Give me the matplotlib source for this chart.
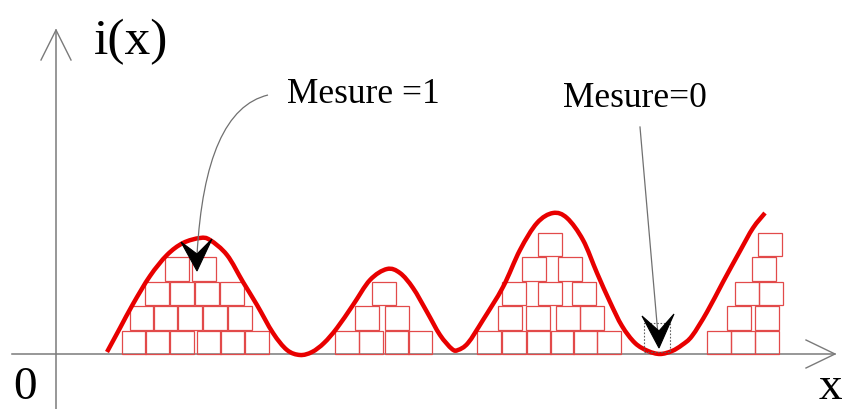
import matplotlib
matplotlib.use("Agg")
import matplotlib.pyplot as plt
from matplotlib.patches import Rectangle, Polygon, PathPatch
from matplotlib.path import Path

# ---- data (x in px, height above the x-axis) ----
curve_x = [107, 120, 133, 150, 167, 183, 200, 210, 227, 243, 257, 273, 287, 300,
           312, 324, 337, 353, 370, 387, 400, 413, 427, 440, 452, 458, 468,
           483, 503, 520, 537, 553, 567, 583, 597, 610, 622, 635, 648, 660, 672,
           682, 692, 707, 723, 740, 753, 765]
curve_h = [2, 26, 50, 78, 99, 111, 116, 114, 99, 72, 49, 21, 4, -1,
           2, 11, 26, 49, 74, 85, 81, 66, 42, 19, 5, 4, 11,
           34, 67, 104, 131, 141, 136, 114, 81, 52, 28, 11, 3, 0, 3,
           9, 18, 42, 72, 103, 126, 141]

# squares: left x per row (row 0 sits on the axis)
square_rows = {
    0: [122, 145, 170, 197, 220, 245, 335, 359, 385, 408, 477, 502, 527, 550, 573, 597, 707, 731, 755],
    1: [130, 153, 178, 203, 228, 355, 385, 498, 526, 556, 580, 727, 755],
    2: [145, 170, 195, 220, 372, 502, 538, 572, 735, 759],
    3: [165, 192, 522, 558, 752],
    4: [538, 758],
}

W, H = 847, 409
base = 354  # pixel row of x-axis

fig = plt.figure(figsize=(W / 100, H / 100), dpi=100)
ax = fig.add_axes([0, 0, 1, 1])
ax.set_xlim(0, W)
ax.set_ylim(base - H, base)
ax.axis("off")

def hy(ypix):
    return base - ypix

axis_col = "#7a7a7a"
# x axis with open arrow
ax.plot([12, 835], [0, 0], color=axis_col, lw=1.1, zorder=2)
ax.plot([806, 835, 806], [14, 0, -14], color=axis_col, lw=1.0, zorder=2)
# y axis with open arrow
ax.plot([56, 56], [hy(409), hy(30)], color=axis_col, lw=1.1, zorder=2)
ax.plot([41, 56, 71], [hy(60), hy(30), hy(60)], color=axis_col, lw=1.0, zorder=2)

# squares
sq = 23.5
row_h = 24.5
for row, xs in square_rows.items():
    for x0 in xs:
        ax.add_patch(Rectangle((x0, row * row_h), sq, sq, fill=False,
                               edgecolor="#e24a4a", lw=0.9, zorder=3))

# red curve: smooth path through the read points (Catmull-Rom drawn as Bezier)
pts = list(zip(curve_x, curve_h))
verts = [pts[0]]
codes = [Path.MOVETO]
n = len(pts)
for i in range(n - 1):
    p0 = pts[i - 1] if i > 0 else pts[i]
    p1 = pts[i]
    p2 = pts[i + 1]
    p3 = pts[i + 2] if i + 2 < n else pts[i + 1]
    c1 = (p1[0] + (p2[0] - p0[0]) / 6, p1[1] + (p2[1] - p0[1]) / 6)
    c2 = (p2[0] - (p3[0] - p1[0]) / 6, p2[1] - (p3[1] - p1[1]) / 6)
    verts += [c1, c2, p2]
    codes += [Path.CURVE4] * 3
ax.add_patch(PathPatch(Path(verts, codes), fill=False, edgecolor="#e80000",
                       lw=3.2, capstyle="butt", joinstyle="round", zorder=4))

serif = "Liberation Serif"
ax.text(94, hy(54), "i(x)", fontsize=37, family=serif, ha="left", va="baseline")
ax.text(13, hy(399), "0", fontsize=34, family=serif, ha="left", va="baseline")
ax.text(819, hy(399), "x", fontsize=34, family=serif, ha="left", va="baseline")
ax.text(287, hy(103), "Mesure =1", fontsize=25.5, family=serif, ha="left", va="baseline")
ax.text(563, hy(107), "Mesure=0", fontsize=25.5, family=serif, ha="left", va="baseline")

# annotation 1: curved leader + black arrowhead
p = Path([(268, hy(95)), (205, hy(110)), (197, hy(255))],
         [Path.MOVETO, Path.CURVE3, Path.CURVE3])
ax.add_patch(PathPatch(p, fill=False, edgecolor="#707070", lw=0.9, zorder=5))
ax.add_patch(Polygon([(197, hy(271)), (181, hy(242)), (197, hy(254)), (212, hy(239))],
                     closed=True, facecolor="black", edgecolor="black", lw=0.8, zorder=6))

# annotation 2: straight leader + arrowhead + dotted box
ax.plot([640, 658], [hy(127), hy(335)], color="#707070", lw=0.9, zorder=5)
ax.add_patch(Rectangle((644, hy(352)), 26, 29, fill=False, edgecolor="#606060",
                       lw=0.8, linestyle=(0, (1.5, 1.5)), zorder=5))
ax.add_patch(Polygon([(659, hy(348)), (642, hy(316)), (659, hy(331)), (674, hy(314))],
                     closed=True, facecolor="black", edgecolor="black", lw=0.8, zorder=6))

fig.savefig("out.png", dpi=100)
